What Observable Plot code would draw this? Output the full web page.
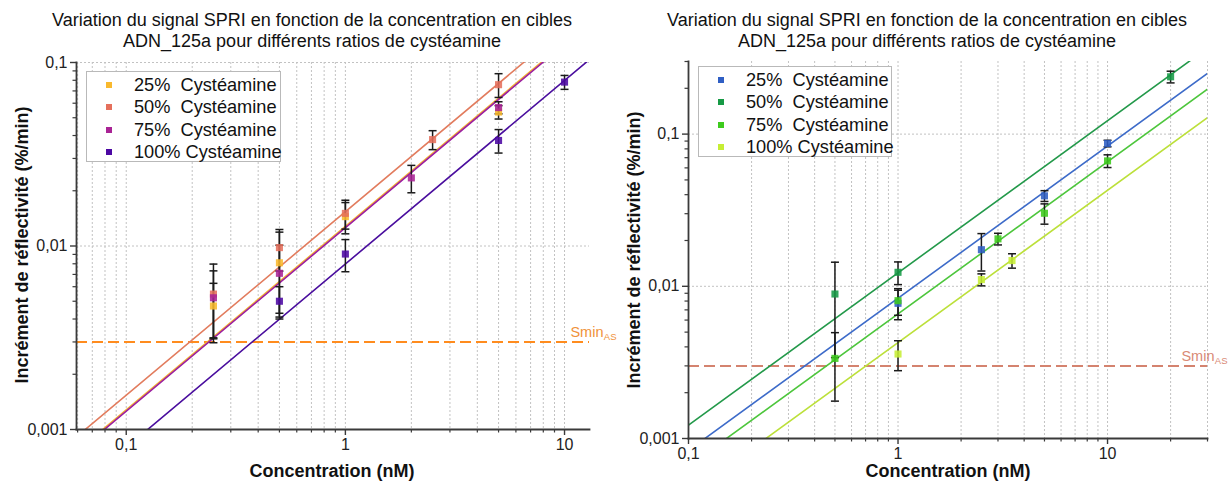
<!DOCTYPE html>
<html>
<head>
<meta charset="utf-8">
<script src="https://cdn.jsdelivr.net/npm/d3@7"></script>
<script src="https://cdn.jsdelivr.net/npm/@observablehq/plot@0.6"></script>
<style>
  body { margin: 0; background: #fff; font-family: "Liberation Sans", Arial, sans-serif; }
  #wrap { position: relative; width: 1228px; height: 482px; overflow: hidden; background: #fff; }
  .panel { position: absolute; top: 0; }
  .title { position: absolute; top: 10px; font-size: 18px; line-height: 21px; text-align: center; color: #111; white-space: nowrap; transform: translateX(-50%); }
  .xlab { position: absolute; font-weight: bold; font-size: 18px; line-height: 18px; color: #111; white-space: nowrap; transform: translateX(-50%); }
  .ylab { position: absolute; font-weight: bold; font-size: 18px; line-height: 18px; color: #111; white-space: nowrap; transform: translate(-50%, -50%) rotate(-90deg); }
  .legend { position: absolute; background: #fff; border: 1px solid #b9b9b9; box-sizing: border-box; height: 91px; }
  .legend .sw { position: absolute; width: 6px; height: 6px; left: 19px; }
  .legend .tx { position: absolute; left: 47px; font-size: 18.2px; line-height: 20px; white-space: pre; color: #111; }
</style>
</head>
<body>
<div id="wrap"></div>
<script>
// ---------- shared text ----------
const titleLines = ["Variation du signal SPRI en fonction de la concentration en cibles",
                    "ADN_125a pour différents ratios de cystéamine"];
const xLabel = "Concentration (nM)";
const yLabel = "Incrément de réflectivité (%/min)";
const seriesNames = ["25%  Cystéamine", "50%  Cystéamine", "75%  Cystéamine", "100% Cystéamine"];
const sminValue = 0.003;

// ---------- left panel data ----------
const L_colors = ["#F9B92E", "#E5705C", "#A92395", "#4C08A3"];
const L_lineColors = ["#F2B233", "#E27C5E", "#9C1FA0", "#4A0E9E"];
const L_x25 = [0.25, 0.5, 1, 5];
const L_y25 = [0.00471, 0.0081, 0.01445, 0.0537];
const L_e25 = [0.00155, 0.0038, 0.0028, 0.0045];
const L_x50 = [0.25, 0.5, 1, 2.5, 5];
const L_y50 = [0.00547, 0.0098, 0.01506, 0.038, 0.0757];
const L_e50 = [0.0025, 0.0025, 0.0027, 0.0045, 0.0112];
const L_x75 = [0.25, 0.5, 2, 5];
const L_y75 = [0.00522, 0.0071, 0.0235, 0.0568];
const L_e75 = [0.0021, 0.0030, 0.0040, 0.0043];
const L_x100 = [0.5, 1, 5, 10];
const L_y100 = [0.0050, 0.00904, 0.0376, 0.0782];
const L_e100 = [0.0010, 0.0018, 0.0055, 0.0068];
const L_fit = [0.0128, 0.01538, 0.01258, 0.00798];   // fitted y = a·x
const L_xDomain = [0.0593, 13];
const L_yDomain = [0.001, 0.1];
const L_xTicks = [0.1, 1, 10];
const L_yTicks = [0.001, 0.01, 0.1];

// ---------- right panel data ----------
const R_colors = ["#2F5FC4", "#169A45", "#3DCB1D", "#C6EE34"];
const R_lineColors = ["#3D6BC9", "#23994A", "#4DC63C", "#BCE03A"];
const R_x25 = [1, 2.5, 5, 10];
const R_y25 = [0.00773, 0.0174, 0.0393, 0.0868];
const R_e25 = [0.0017, 0.0048, 0.0032, 0.0043];
const R_x50 = [0.5, 1, 20];
const R_y50 = [0.0089, 0.01236, 0.238];
const R_e50 = [0.0055, 0.0021, 0.021];
const R_x75 = [0.5, 1, 3, 5, 10];
const R_y75 = [0.00336, 0.00805, 0.0205, 0.0302, 0.0667];
const R_e75 = [0.0016, 0.0016, 0.0018, 0.0046, 0.0064];
const R_x100 = [1, 2.5, 3.5];
const R_y100 = [0.00359, 0.01107, 0.01476];
const R_e100 = [0.0008, 0.0010, 0.0016];
const R_fit = [0.00835, 0.01226, 0.00659, 0.00427];
const R_xDomain = [0.1, 30];
const R_yDomain = [0.001, 0.3];
const R_xTicks = [0.1, 1, 10];
const R_yTicks = [0.001, 0.01, 0.1];

// ---------- helpers ----------
const fmt = v => String(v).replace(".", ",");
function minorTicks(domain) {
  const out = [];
  for (let e = -4; e <= 2; e++) for (let m = 2; m <= 9; m++) {
    const v = m * Math.pow(10, e);
    if (v >= domain[0] * 0.999 && v <= domain[1] * 1.001) out.push(+v.toPrecision(6));
  }
  return out;
}
const capSymbol = { draw(ctx) { ctx.moveTo(-4, 0); ctx.lineTo(4, 0); } };

function buildPoints(xs, ys, es, colors) {
  const pts = [];
  for (let s = 0; s < 4; s++) xs[s].forEach((x, i) =>
    pts.push({s, x, y: ys[s][i], lo: ys[s][i] - es[s][i], hi: ys[s][i] + es[s][i], c: colors[s]}));
  return pts;
}
function buildFits(fit, domain, colors) {
  const rows = [];
  fit.forEach((a, s) => domain.forEach(x => rows.push({s, x, y: a * x, c: colors[s]})));
  return rows;
}

function panel(o) {
  const pts = buildPoints(o.xs, o.ys, o.es, o.colors);
  const fits = buildFits(o.fit, o.xDomain, o.lineColors);
  const xAll = [...o.xTicks, ...minorTicks(o.xDomain)].filter(v => v >= o.xDomain[0] && v <= o.xDomain[1]);
  const axisStroke = "#3a3a3a";
  return Plot.plot({
    width: 614, height: 482,
    marginLeft: o.ml, marginRight: o.mr, marginTop: o.mt, marginBottom: o.mb,
    x: {type: "log", domain: o.xDomain, axis: null},
    y: {type: "log", domain: o.yDomain, axis: null},
    color: {type: "identity"},
    style: {fontFamily: "'Liberation Sans', Arial, sans-serif", fontSize: "16px", color: "#222", background: "transparent", overflow: "visible"},
    marks: [
      Plot.gridX(xAll, {stroke: "#c2c2c2", strokeOpacity: 1, strokeDasharray: "2,2"}),
      Plot.gridY(o.yTicks.filter(v => v > o.yDomain[0]), {stroke: "#c2c2c2", strokeOpacity: 1, strokeDasharray: "2,2"}),
      Plot.ruleY([sminValue], {stroke: o.sminColor, strokeWidth: 2, strokeDasharray: "11,5"}),
      Plot.line(fits, {x: "x", y: "y", z: "s", stroke: "c", strokeWidth: 1.6, clip: true}),
      Plot.ruleX(pts, {x: "x", y1: "lo", y2: "hi", stroke: "#1a1a1a", strokeWidth: 1.5}),
      Plot.dot(pts, {x: "x", y: "hi", symbol: capSymbol, stroke: "#1a1a1a", strokeWidth: 1.5, fill: "none"}),
      Plot.dot(pts, {x: "x", y: "lo", symbol: capSymbol, stroke: "#1a1a1a", strokeWidth: 1.5, fill: "none"}),
      Plot.dot(pts, {x: "x", y: "y", symbol: "square", r: 4, fill: "c", fillOpacity: 0.88, stroke: "none"}),
      Plot.axisX(o.xTicks, {tickSize: 6, tickPadding: 3, tickFormat: fmt, stroke: axisStroke, strokeWidth: 1.4, label: null, fill: "#222"}),
      Plot.axisX(minorTicks(o.xDomain), {tickSize: 3.5, tickFormat: () => "", stroke: axisStroke, strokeWidth: 1.2, label: null}),
      Plot.axisY(o.yTicks, {tickSize: 6, tickPadding: 3, tickFormat: fmt, stroke: axisStroke, strokeWidth: 1.4, label: null, fill: "#222"}),
      Plot.axisY(minorTicks(o.yDomain), {tickSize: 3.5, tickFormat: () => "", stroke: axisStroke, strokeWidth: 1.2, label: null}),
      Plot.frame({anchor: "left", stroke: axisStroke, strokeWidth: 1.8}),
      Plot.frame({anchor: "bottom", stroke: axisStroke, strokeWidth: 1.8}),
      Plot.text([sminValue], {x: () => o.xDomain[1], y: d => d, text: () => "Smin", textAnchor: "end", dx: o.sminDx - 13, dy: -10, fill: o.sminText, fontSize: 14.5}),
      Plot.text([sminValue], {x: () => o.xDomain[1], y: d => d, text: () => "AS", textAnchor: "end", dx: o.sminDx, dy: -5, fill: o.sminText, fontSize: 9.5})
    ]
  });
}

const wrap = document.getElementById("wrap");
function addPanel(left, o) {
  const d = document.createElement("div");
  d.className = "panel"; d.style.left = left + "px";
  d.appendChild(panel(o));
  wrap.appendChild(d);
}
function addText(cls, html, css) {
  const d = document.createElement("div");
  d.className = cls; d.innerHTML = html; Object.assign(d.style, css);
  wrap.appendChild(d);
}
function addLegend(left, top, width, colors) {
  const box = document.createElement("div");
  box.className = "legend";
  Object.assign(box.style, {left: left + "px", top: top + "px", width: width + "px"});
  const rowY = [13, 35.3, 57.6, 79.9];
  seriesNames.forEach((name, i) => {
    const sw = document.createElement("div");
    sw.className = "sw"; sw.style.top = (rowY[i] - 3) + "px"; sw.style.background = colors[i];
    box.appendChild(sw);
    const tx = document.createElement("div");
    tx.className = "tx"; tx.style.top = (rowY[i] - 10) + "px"; tx.textContent = name;
    box.appendChild(tx);
  });
  wrap.appendChild(box);
}

addPanel(0, {
  xs: [L_x25, L_x50, L_x75, L_x100], ys: [L_y25, L_y50, L_y75, L_y100], es: [L_e25, L_e50, L_e75, L_e100],
  colors: L_colors, lineColors: L_lineColors, fit: L_fit,
  xDomain: L_xDomain, yDomain: L_yDomain, xTicks: L_xTicks, yTicks: L_yTicks,
  ml: 76, mr: 25, mt: 62, mb: 53,
  sminColor: "#FF8C1E", sminText: "#F0923A", sminDx: 27
});
addPanel(614, {
  xs: [R_x25, R_x50, R_x75, R_x100], ys: [R_y25, R_y50, R_y75, R_y100], es: [R_e25, R_e50, R_e75, R_e100],
  colors: R_colors, lineColors: R_lineColors, fit: R_fit,
  xDomain: R_xDomain, yDomain: R_yDomain, xTicks: R_xTicks, yTicks: R_yTicks,
  ml: 74, mr: 21, mt: 61, mb: 44,
  sminColor: "#D4836F", sminText: "#D98A76", sminDx: 20
});

addText("title", titleLines.join("<br>"), {left: "312px"});
addText("title", titleLines.join("<br>"), {left: "927px"});
addText("xlab", xLabel, {left: "332px", top: "462px"});
addText("xlab", xLabel, {left: "948px", top: "462px"});
addText("ylab", yLabel, {left: "22px", top: "245px"});
addText("ylab", yLabel, {left: "634px", top: "250px"});
addLegend(86, 71, 195, L_colors);
addLegend(698, 66, 194, R_colors);
</script>
</body>
</html>
